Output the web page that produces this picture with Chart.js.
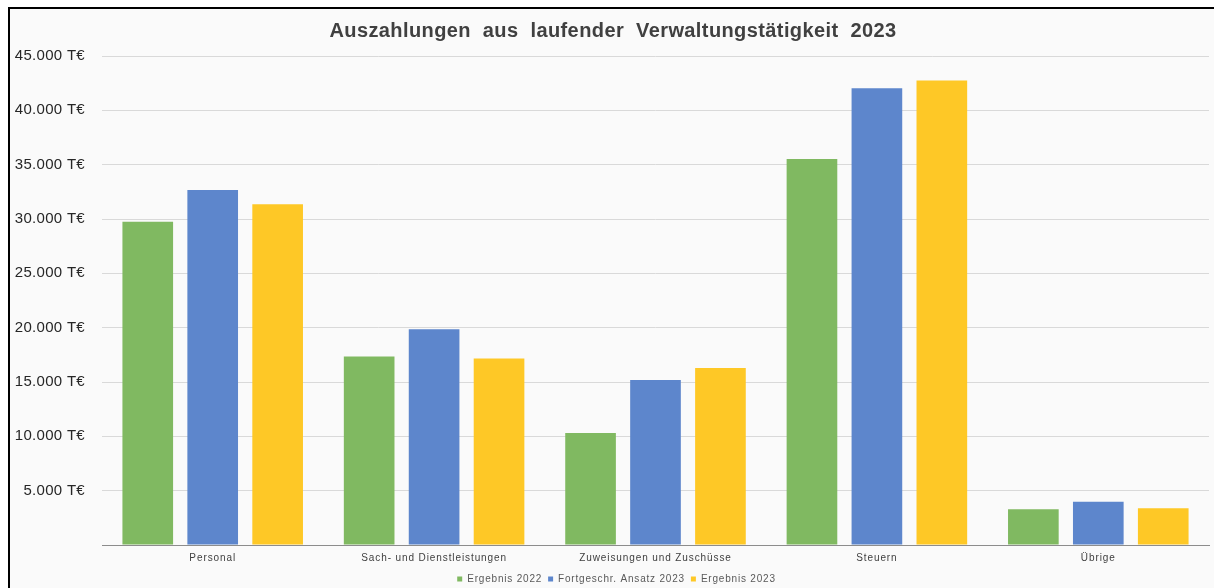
<!DOCTYPE html>
<html lang="de">
<head>
<meta charset="utf-8">
<title>Auszahlungen aus laufender Verwaltungstätigkeit 2023</title>
<script src="https://cdn.jsdelivr.net/npm/chart.js@4/dist/chart.umd.min.js"></script>
<style>
  html, body { margin: 0; padding: 0; background: #ffffff; }
  #wrap { width: 1214px; height: 588px; position: relative; }
</style>
</head>
<body>
<div id="wrap"><canvas id="chart"></canvas></div>
<script>
// Kategorien und Werte (in T€)
const categories = ['Personal', 'Sach- und Dienstleistungen', 'Zuweisungen und Zuschüsse', 'Steuern', 'Übrige'];
const seriesNames = ['Ergebnis 2022', 'Fortgeschr. Ansatz 2023', 'Ergebnis 2023'];
const ergebnis2022 = [29750, 17350, 10300, 35520, 3290];
const ansatz2023 = [32670, 19860, 15180, 42040, 3990];
const ergebnis2023 = [31360, 17160, 16290, 42750, 3380];
const yTicks = [5000, 10000, 15000, 20000, 25000, 30000, 35000, 40000, 45000];
const chartTitle = 'Auszahlungen aus laufender Verwaltungstätigkeit 2023';

const seriesColors = ['#80b961', '#5d86cc', '#fec826'];
const fontFamily = 'Liberation Sans, Arial, sans-serif';

// Hintergrund, Rahmen und Titel wie im Original
const frame = {
    id: 'frame',
    beforeDraw(chart) {
        const ctx = chart.ctx;
        ctx.save();
        ctx.fillStyle = '#ffffff';
        ctx.fillRect(0, 0, chart.width, chart.height);
        ctx.fillStyle = '#fafafa';
        ctx.fillRect(9, 8, chart.width - 9, chart.height - 8);
        ctx.strokeStyle = '#000000';
        ctx.lineWidth = 2;
        ctx.beginPath();
        ctx.moveTo(9, chart.height);
        ctx.lineTo(9, 8);
        ctx.lineTo(chart.width, 8);
        ctx.stroke();
        ctx.restore();
    },
    afterDraw(chart) {
        const ctx = chart.ctx;
        ctx.save();
        ctx.letterSpacing = '0.4px';
        ctx.wordSpacing = '6px';
        ctx.font = 'bold 20px ' + fontFamily;
        ctx.fillStyle = '#404040';
        ctx.textAlign = 'center';
        ctx.textBaseline = 'middle';
        ctx.fillText(chartTitle, 613, 31);
        ctx.restore();
    }
};

const fmt = v => v.toLocaleString('de-DE') + ' T€';

const datasets = [ergebnis2022, ansatz2023, ergebnis2023].map((data, i) => ({
    label: seriesNames[i],
    data: data,
    backgroundColor: seriesColors[i],
    borderWidth: 0,
    categoryPercentage: 0.88,
    barPercentage: 0.78
}));

const chart = new Chart(document.getElementById('chart'), {
    type: 'bar',
    data: { labels: categories, datasets: datasets },
    plugins: [frame],
    options: {
        responsive: true,
        maintainAspectRatio: false,
        animation: false,
        layout: { padding: { top: 56, right: 5, bottom: -6, left: 0 } },
        plugins: {
            title: { display: false },
            legend: {
                position: 'bottom',
                labels: {
                    color: '#595959',
                    font: { family: fontFamily, size: 10 },
                    usePointStyle: true,
                    pointStyle: 'rect',
                    boxWidth: 5,
                    boxHeight: 5,
                    padding: 6
                }
            },
            tooltip: { enabled: false }
        },
        scales: {
            x: {
                grid: { display: false, drawTicks: false },
                border: { color: '#8c8c8c', width: 1 },
                ticks: {
                    color: '#404040',
                    padding: 7,
                    maxRotation: 0,
                    autoSkip: false,
                    font: { family: fontFamily, size: 10 }
                },
                afterFit(scale) { scale.height = 23; }
            },
            y: {
                min: 0,
                max: 45000,
                border: { display: false },
                grid: {
                    color: ctx => ctx.tick.value === 0 ? '#8c8c8c' : '#d9d9d9',
                    drawTicks: false
                },
                afterBuildTicks(scale) {
                    scale.ticks = [0].concat(yTicks).map(v => ({ value: v }));
                },
                ticks: {
                    color: '#262626',
                    padding: 17,
                    font: { family: fontFamily, size: 15 },
                    callback: v => v === 0 ? '' : fmt(v)
                },
                afterFit(scale) { scale.width = 102; }
            }
        }
    }
});

// etwas Zeichenabstand (und Versatz) wie in der Vorlage
function spaced(obj, name, spacing, dx) {
    const orig = obj[name];
    obj[name] = function (...args) {
        const c = this.ctx;
        c.save();
        c.letterSpacing = spacing;
        if (dx) c.translate(dx, 0);
        const r = orig.apply(this, args);
        c.restore();
        return r;
    };
}
spaced(chart.scales.x, 'drawLabels', '0.9px');
spaced(chart.scales.y, 'drawLabels', '0.3px');
spaced(chart.legend, 'fit', '0.8px');
spaced(chart.legend, 'draw', '0.8px', 12);
chart.update();
</script>
</body>
</html>
